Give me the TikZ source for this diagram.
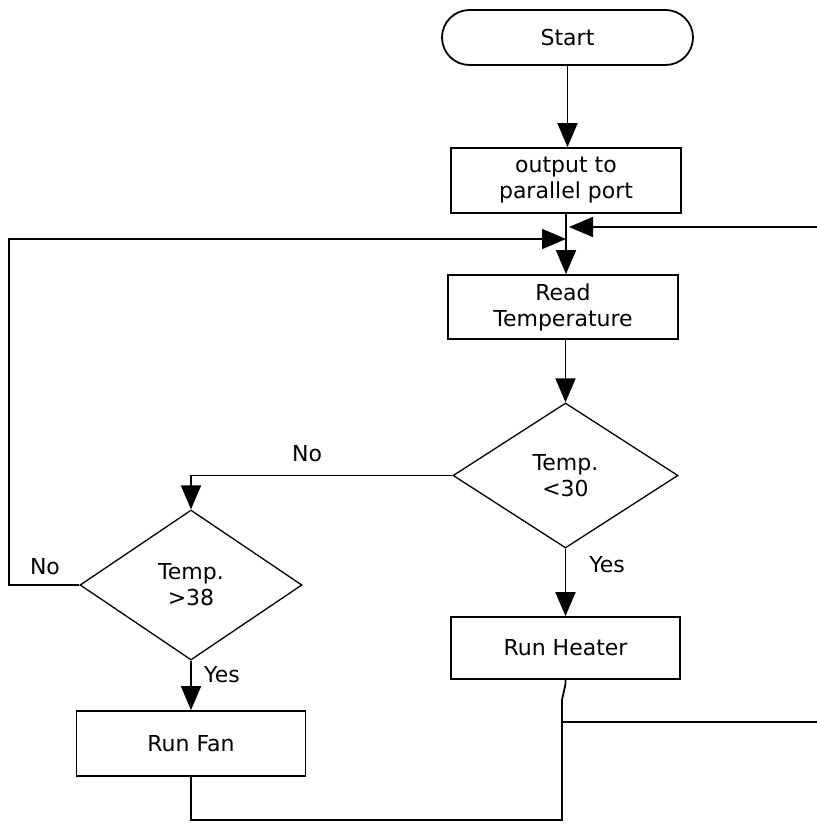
\documentclass[tikz,border=0pt]{standalone}
\usepackage{fontspec}
\setmainfont{DejaVu Sans}
\usetikzlibrary{shapes.geometric,arrows.meta}
\begin{document}
\begin{tikzpicture}[x=1pt,y=-1pt,
  every node/.style={font=\fontsize{22}{26}\selectfont},
  box/.style={draw,line width=1.8pt,align=center,inner sep=0pt},
  dec/.style={draw,diamond,line width=1.3pt,align=center,inner sep=0pt},
  line/.style={line width=1.8pt},
  arr/.style={line,-{Triangle[length=24pt,width=20pt]}},
  lbl/.style={inner sep=0pt}]
\useasboundingbox (0,0) rectangle (816,824);
\node[box,rounded corners=27.5pt,minimum width=251pt,minimum height=55pt] (start) at (567.5,37.5) {Start};
\node[box,minimum width=230pt,minimum height=65pt] (output) at (566,180.5) {output to\\parallel port};
\node[box,minimum width=230pt,minimum height=64pt] (read) at (563,307) {Read\\Temperature};
\node[dec,minimum width=225pt,minimum height=145pt] (d1) at (565.5,475.5) {Temp.\\<30};
\node[dec,minimum width=222pt,minimum height=150pt] (d2) at (191,585) {Temp.\\>38};
\node[box,minimum width=229pt,minimum height=62pt] (heater) at (565.5,648) {Run Heater};
\node[box,minimum width=229pt,minimum height=65pt] (fan) at (191,743.5) {Run Fan};
\node[lbl] (no1) at (307,454) {No};
\node[lbl] (no2) at (45,567) {No};
\node[lbl] (yes1) at (607,565) {Yes};
\node[lbl] (yes2) at (222,675) {Yes};
\coordinate (inL) at (566,239);
\coordinate (inR) at (569,227);
\coordinate (jn) at (562,722);
\draw[arr] (start.south) -- (start.south |- output.north);
\draw[arr] (output.south) -- (output.south |- read.north);
\draw[arr] (read.south -| d1.north) -- (d1.north);
\draw[arr] (d1.west) -| (d2.north);
\draw[arr] (d1.south) -- (heater.north);
\draw[arr] (d2.south) -- (fan.north);
\draw[arr] (d2.west) -- ++(-70,0) |- (inL);
\draw[line] (fan.south) -- ++(0,43) -| (jn);
\draw[arr] (heater.south) -- ++(0,4) -- (562,700) -- (jn) -- (822,722) |- (inR);
\end{tikzpicture}
\end{document}
